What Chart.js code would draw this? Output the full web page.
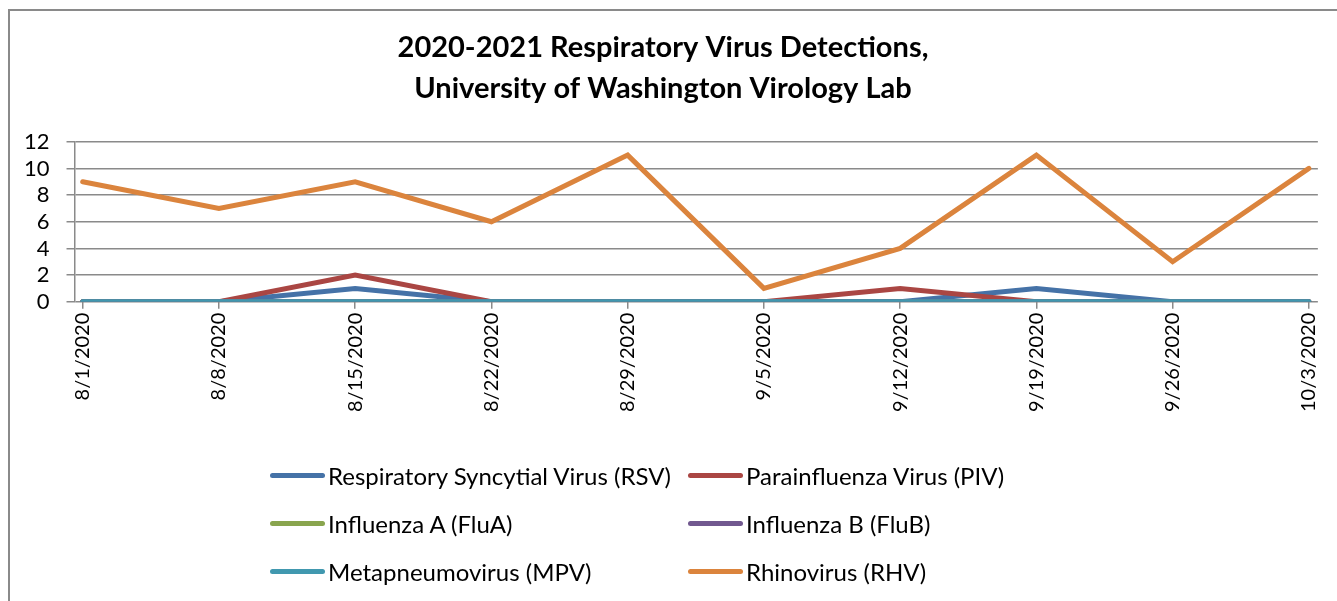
<!DOCTYPE html>
<html>
<head>
<meta charset="utf-8">
<script src="https://cdn.jsdelivr.net/npm/chart.js@4"></script>
<style>
    body { margin: 0; background: #fff; font-family: Lato, "Open Sans", sans-serif; }
    #wrap { position: relative; width: 1337px; height: 601px; overflow: hidden; }
    #frame { position: absolute; left: 8px; top: 9px; width: 1400px; height: 700px; border-left: 2px solid #8a8a8a; border-top: 2px solid #8a8a8a; }
    #chart { position: absolute; left: 0; top: 0; }
    #legend { position: absolute; left: 270px; top: 458px; display: grid; grid-template-columns: 418px 330px; row-gap: 14px; }
    .item { display: flex; align-items: center; height: 34px; font-size: 24px; color: #000; }
    .swatch { width: 55px; height: 5px; border-radius: 3px; margin-right: 3px; }
</style>
</head>
<body>
<div id="wrap">
    <div id="frame"></div>
    <canvas id="chart" width="1337" height="601"></canvas>
    <div id="legend"></div>
</div>
<script>
const dates = ["8/1/2020", "8/8/2020", "8/15/2020", "8/22/2020", "8/29/2020",
               "9/5/2020", "9/12/2020", "9/19/2020", "9/26/2020", "10/3/2020"];

const seriesNames = ["Respiratory Syncytial Virus (RSV)", "Parainfluenza Virus (PIV)",
                     "Influenza A (FluA)", "Influenza B (FluB)",
                     "Metapneumovirus (MPV)", "Rhinovirus (RHV)"];
const seriesColors = ["#4572A7", "#AA4643", "#89A54E", "#71588F", "#4198AF", "#DB843D"];

const rsv  = [0, 0, 1, 0, 0, 0, 0, 1, 0, 0];
const piv  = [0, 0, 2, 0, 0, 0, 1, 0, 0, 0];
const fluA = [0, 0, 0, 0, 0, 0, 0, 0, 0, 0];
const fluB = [0, 0, 0, 0, 0, 0, 0, 0, 0, 0];
const mpv  = [0, 0, 0, 0, 0, 0, 0, 0, 0, 0];
const rhv  = [9, 7, 9, 6, 11, 1, 4, 11, 3, 10];

const yTicks = [0, 2, 4, 6, 8, 10, 12];

const allSeries = [rsv, piv, fluA, fluB, mpv, rhv];
const FONT = "Lato, 'Open Sans', sans-serif";

const datasets = allSeries.map((vals, i) => ({
    label: seriesNames[i],
    data: vals.map((v, k) => ({ x: k, y: v })),
    borderColor: seriesColors[i],
    backgroundColor: seriesColors[i],
    borderWidth: 5,
    pointRadius: 0,
    tension: 0,
    borderCapStyle: "round",
    borderJoinStyle: "miter",
    order: allSeries.length - i   // later series drawn on top
}));

new Chart(document.getElementById("chart"), {
    type: "line",
    data: { datasets },
    options: {
        responsive: false,
        animation: false,
        layout: { padding: { left: 7, right: 18, top: 27, bottom: 185 } },
        plugins: {
            legend: { display: false },
            tooltip: { enabled: false },
            title: {
                display: true,
                text: ["2020-2021 Respiratory Virus Detections,", "University of Washington Virology Lab"],
                color: "#000",
                font: { family: FONT, size: 29, weight: "bold", lineHeight: 1.41 },
                padding: { top: 0, bottom: 33 }
            }
        },
        scales: {
            x: {
                type: "linear",
                min: -0.06,
                max: 9.066,
                afterBuildTicks: axis => { axis.ticks = dates.map((_, k) => ({ value: k })); },
                ticks: {
                    callback: v => dates[v],
                    color: "#000",
                    font: { family: FONT, size: 20 },
                    maxRotation: 90,
                    minRotation: 90,
                    autoSkip: false,
                    padding: 4
                },
                grid: { drawOnChartArea: false, color: "#8a8a8a", lineWidth: 1.5, tickLength: 7 },
                border: { display: false }
            },
            y: {
                min: 0,
                max: 12,
                afterBuildTicks: axis => { axis.ticks = yTicks.map(v => ({ value: v })); },
                ticks: { color: "#000", font: { family: FONT, size: 22 }, padding: 17, autoSkip: false },
                grid: { color: "#8a8a8a", lineWidth: 1.5, tickLength: 8 },
                border: { color: "#8a8a8a", width: 1.5 }
            }
        }
    }
});

// Legend, two columns like the original
const legend = document.getElementById("legend");
seriesNames.forEach((name, i) => {
    const item = document.createElement("div");
    item.className = "item";
    item.innerHTML = `<span class="swatch" style="background:${seriesColors[i]}"></span>${name}`;
    legend.appendChild(item);
});
</script>
</body>
</html>
